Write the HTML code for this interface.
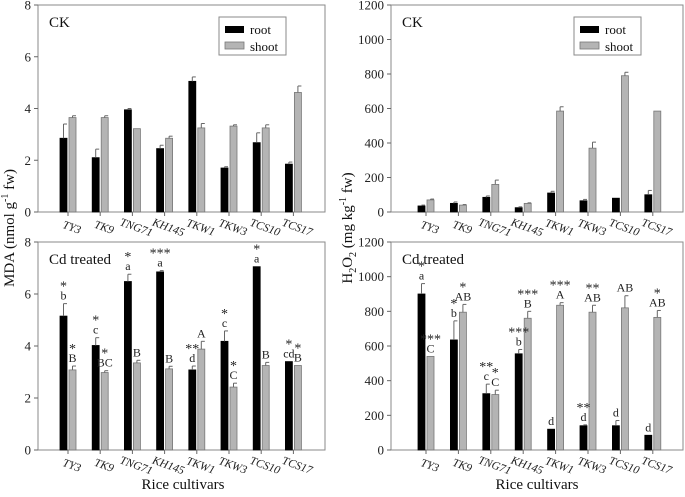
<!DOCTYPE html>
<html><head><meta charset="utf-8"><style>
html,body{margin:0;padding:0;background:#fff}
svg{display:block;font-family:"Liberation Serif",serif}
</style></head><body>
<svg id="c" width="685" height="497" viewBox="0 0 685 497"></svg>
<script>
const categories=["TY3","TK9","TNG71","KH145","TKW1","TKW3","TCS10","TCS17"];
const mdaCkRoot=[2.85,2.1,3.95,2.45,5.05,1.7,2.68,1.85];
const mdaCkRootErr=[0.55,0.33,0.05,0.13,0.17,0.05,0.38,0.08];
const mdaCkShoot=[3.65,3.65,3.22,2.85,3.25,3.32,3.25,4.62];
const mdaCkShootErr=[0.07,0.07,0,0.08,0.17,0.05,0.12,0.25];
const mdaCdRoot=[5.15,4.02,6.48,6.85,3.08,4.18,7.05,3.4];
const mdaCdRootErr=[0.48,0.3,0.28,0.05,0.15,0.4,0,0];
const mdaCdShoot=[3.08,2.98,3.35,3.12,3.88,2.42,3.25,3.25];
const mdaCdShootErr=[0.15,0.07,0.1,0.1,0.3,0.15,0.12,0];
const h2CkRoot=[35,50,85,25,110,65,80,100];
const h2CkRootErr=[5,8,8,5,10,8,0,25];
const h2CkShoot=[70,40,160,50,585,370,790,585];
const h2CkShootErr=[5,3,25,3,25,35,20,0];
const h2CdRoot=[900,635,325,555,120,140,140,85];
const h2CdRootErr=[60,110,55,25,0,5,30,0];
const h2CdShoot=[540,795,320,760,835,795,820,765];
const h2CdShootErr=[0,45,25,40,15,40,70,40];
const mdaCdRootStars=["*","*","*","***","**","*","*","*"];
const mdaCdRootLetters=["b","c","a","a","d","c","a","cd"];
const mdaCdShootStars=["*","*","","","","*","","*"];
const mdaCdShootLetters=["B","BC","B","B","A","C","B","B"];
const h2CdRootStars=["*","*","**","***","","**","",""];
const h2CdRootLetters=["a","b","c","b","d","d","d","d"];
const h2CdShootStars=["***","*","*","***","***","**","","*"];
const h2CdShootLetters=["C","AB","C","B","A","AB","AB","AB"];
const mdaTicks=[0,2,4,6,8];
const h2Ticks=[0,200,400,600,800,1000,1200];

const svg=document.getElementById('c');
const NS="http://www.w3.org/2000/svg";
function mk(tag,attrs,parent,text){const e=document.createElementNS(NS,tag);for(const k in attrs)e.setAttribute(k,attrs[k]);if(text!==undefined)e.textContent=text;(parent||svg).appendChild(e);return e;}

function panel(o){
  const g=mk('g',{});
  
  
  const L=o.x0,R=o.x1,T=o.yTop,B=o.yBot,max=o.ticks[o.ticks.length-1];
  const y=v=>B-(v/max)*(B-T);
  const cx=i=>L+o.off+i*o.step;
  const fr=mk('rect',{x:L,y:T,width:R-L,height:B-T,fill:'none',stroke:'#8a8a8a','stroke-width':1},g);
  
  
  o.ticks.forEach(t=>{
    mk('line',{x1:L-4,x2:L,y1:y(t),y2:y(t),stroke:'#666'},g);
    const tl=mk('text',{x:L-7,y:y(t)+4.5,'text-anchor':'end','font-size':13,fill:'#222'},g,String(t));
    
    
  });
  const bw=7;
  categories.forEach((c,i)=>{
    mk('line',{x1:cx(i),x2:cx(i),y1:B,y2:B+4,stroke:'#666'},g);
    const lx=cx(i)+4,ly=B+19;
    const xl=mk('text',{x:lx,y:ly,'text-anchor':'middle','font-size':11.5,'font-style':'italic',fill:'#222',transform:`rotate(20 ${lx} ${ly-4})`},g,c);
    
    
    [[o.root,o.rootErr,-bw-1,'#000','#000','root'],[o.shoot,o.shootErr,1,'#b4b4b4','#777','shoot']].forEach(([vals,errs,dx,fill,st,nm])=>{
      const v=vals[i],x=cx(i)+dx;
      const b=mk('rect',{x:x,y:y(v),width:bw,height:B-y(v),fill:fill,stroke:st,'stroke-width':0.8},g);
      
      
      const e=errs[i];
      if(e>0){
        mk('line',{x1:x+bw/2,x2:x+bw/2,y1:y(v),y2:y(v+e),stroke:'#666'},g);
        mk('line',{x1:x+bw/2,x2:x+bw,y1:y(v+e),y2:y(v+e),stroke:'#666'},g);
      }
    });
    if(o.ann){
      [[o.root,o.rootErr,o.ann[0],o.ann[1],-bw/2-1],[o.shoot,o.shootErr,o.ann[2],o.ann[3],bw/2+1]].forEach(([vals,errs,stars,lets,dx])=>{
        const top=y(vals[i]+errs[i]);
        const ax=cx(i)+dx;
        const lt=mk('text',{x:ax,y:top-4,'text-anchor':'middle','font-size':12,fill:'#222'},g,lets[i]);
        
        
        if(stars[i]){
          const s=mk('text',{x:ax,y:top-13,'text-anchor':'middle','font-size':14,fill:'#222'},g,stars[i]);
          
          
        }
      });
    }
  });
  const pt=mk('text',{x:L+11,y:T+22,'font-size':15,fill:'#111'},g,o.title);
  
  
  if(o.legend){
    const lg=mk('g',{},g);
    
    
    const lx=o.legend;
    mk('rect',{x:lx,y:T+12,width:67,height:38,fill:'#fff',stroke:'#8a8a8a'},lg);
    mk('rect',{x:lx+6,y:T+21,width:19,height:7,fill:'#000'},lg);
    mk('rect',{x:lx+6,y:T+37,width:19,height:7,fill:'#b4b4b4',stroke:'#777','stroke-width':0.8},lg);
    mk('text',{x:lx+31,y:T+29,'font-size':13,fill:'#111'},lg,'root');
    mk('text',{x:lx+31,y:T+46,'font-size':13,fill:'#111'},lg,'shoot');
  }
}
panel({name:'mda-ck-panel',x0:38,x1:325,yTop:5,yBot:212,off:30,step:32.2,ticks:mdaTicks,root:mdaCkRoot,rootErr:mdaCkRootErr,shoot:mdaCkShoot,shootErr:mdaCkShootErr,title:'CK',legend:219});
panel({name:'mda-cd-panel',x0:38,x1:325,yTop:242,yBot:450,off:30,step:32.2,ticks:mdaTicks,root:mdaCdRoot,rootErr:mdaCdRootErr,shoot:mdaCdShoot,shootErr:mdaCdShootErr,title:'Cd treated',ann:[mdaCdRootStars,mdaCdRootLetters,mdaCdShootStars,mdaCdShootLetters]});
panel({name:'h2o2-ck-panel',x0:391,x1:683,yTop:5,yBot:212,off:35,step:32.4,ticks:h2Ticks,root:h2CkRoot,rootErr:h2CkRootErr,shoot:h2CkShoot,shootErr:h2CkShootErr,title:'CK',legend:574});
panel({name:'h2o2-cd-panel',x0:391,x1:683,yTop:242,yBot:450,off:35,step:32.4,ticks:h2Ticks,root:h2CdRoot,rootErr:h2CdRootErr,shoot:h2CdShoot,shootErr:h2CdShootErr,title:'Cd treated',ann:[h2CdRootStars,h2CdRootLetters,h2CdShootStars,h2CdShootLetters]});
</script>
<div style="position:absolute;left:0;top:0;width:685px;height:497px;pointer-events:none">
<svg width="685" height="497" style="position:absolute;left:0;top:0">
<text transform="rotate(-90 14 228)" x="14" y="228" text-anchor="middle" font-family="Liberation Serif" font-size="15" fill="#111">MDA (nmol g<tspan dy="-6" font-size="10">-1</tspan><tspan dy="6"> fw)</tspan></text>
<text transform="rotate(-90 352 228)" x="352" y="228" text-anchor="middle" font-family="Liberation Serif" font-size="15" fill="#111">H<tspan dy="4" font-size="10">2</tspan><tspan dy="-4">O</tspan><tspan dy="4" font-size="10">2</tspan><tspan dy="-4"> (mg kg</tspan><tspan dy="-6" font-size="10">-1</tspan><tspan dy="6"> fw)</tspan></text>
<text x="183" y="489" text-anchor="middle" font-family="Liberation Serif" font-size="15" fill="#111">Rice cultivars</text>
<text x="537" y="489" text-anchor="middle" font-family="Liberation Serif" font-size="15" fill="#111">Rice cultivars</text>
</svg></div>
</body></html>
